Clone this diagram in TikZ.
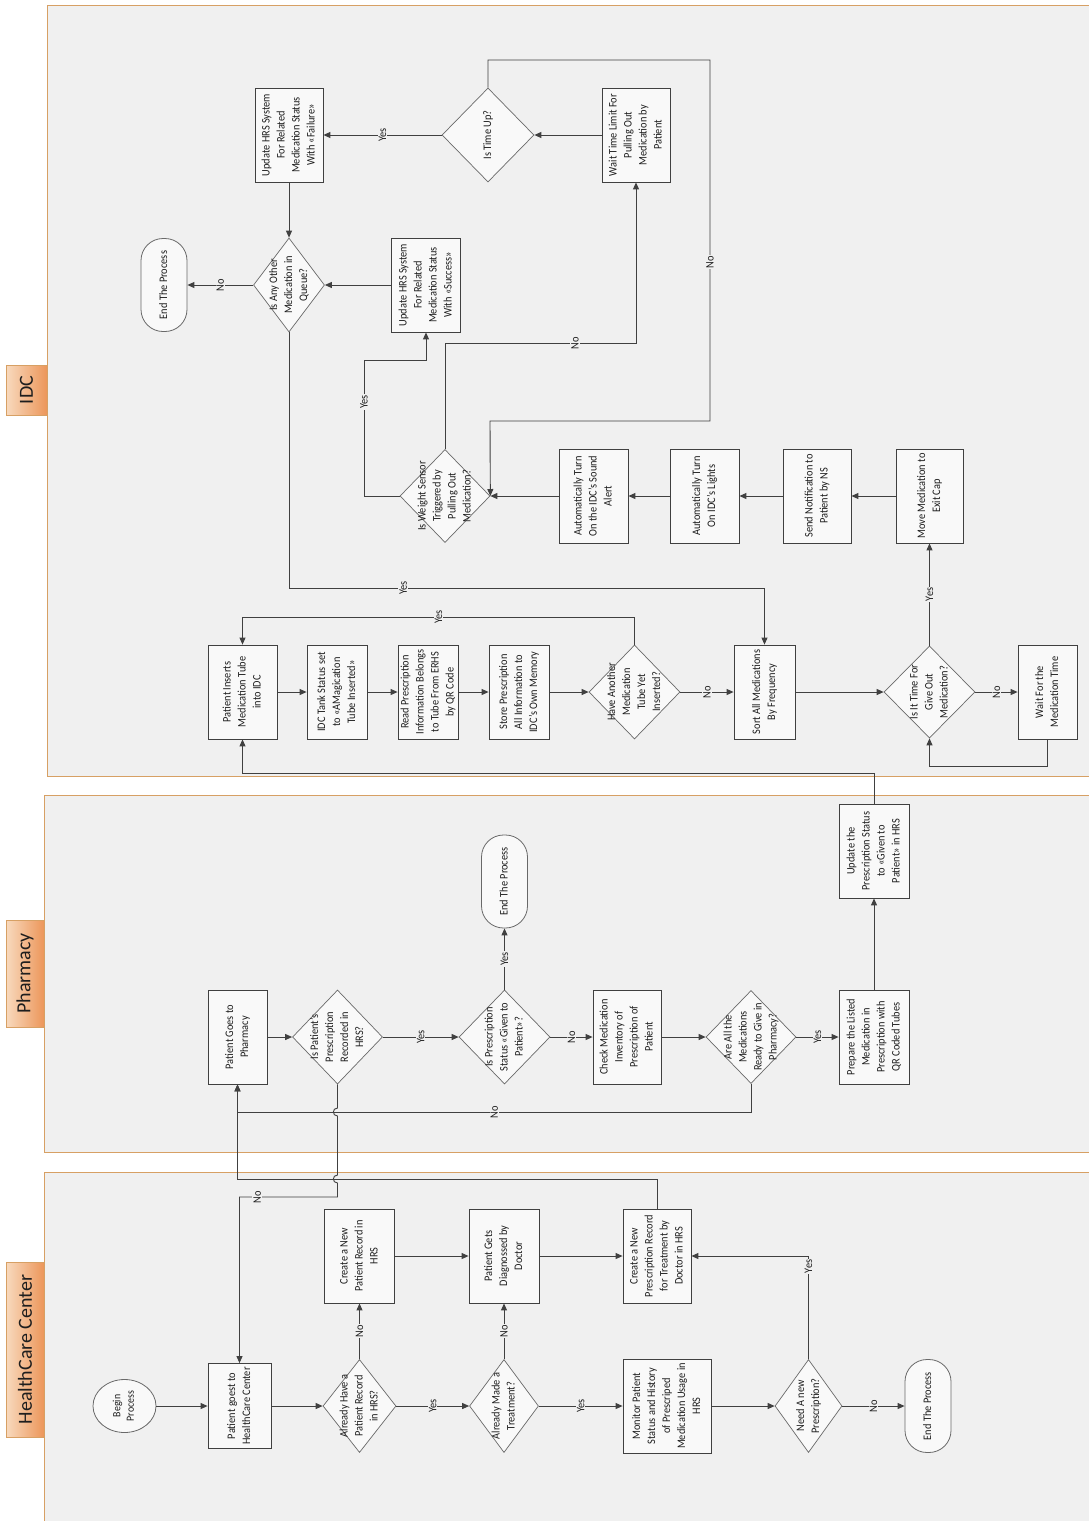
\documentclass[tikz,border=0pt]{standalone}
\usepackage{fontspec}
\setmainfont{Carlito}[FakeStretch=0.9]
\newfontfamily\lanefont{Carlito}
\usepackage{graphicx}
\usetikzlibrary{arrows.meta, shapes.geometric}
\definecolor{lanegray}{RGB}{240,240,240}
\definecolor{laneedge}{RGB}{215,160,100}
\definecolor{tabl}{RGB}{248,218,190}
\definecolor{tabr}{RGB}{236,150,90}
\definecolor{boxfill}{RGB}{249,249,249}
\definecolor{edgegray}{RGB}{64,64,64}
\definecolor{diagray}{RGB}{105,105,105}
\definecolor{textgray}{RGB}{30,30,30}
\newcommand{\vtext}[1]{\rotatebox{90}{\begin{tabular}{@{}c@{}}#1\end{tabular}}}
\newcommand{\dtext}[1]{\makebox[0pt]{\vtext{#1}}}

\begin{document}
\begin{tikzpicture}[
  x=1pt, y=-1pt,
  font=\fontsize{11.5}{15}\selectfont,
  lane/.style={fill=lanegray, draw=laneedge, line width=0.8pt},
  lanetab/.style={draw=laneedge, left color=tabl, right color=tabr, line width=0.6pt,
                  inner sep=0pt, text=textgray, font=\lanefont\fontsize{20}{24}\selectfont},
  box/.style={rectangle, draw=edgegray, fill=boxfill, line width=0.8pt, inner sep=0pt,
              minimum height=94pt, text=textgray},
  dia/.style={diamond, draw=diagray, fill=boxfill, line width=0.7pt, inner sep=0pt,
              minimum height=94pt, text=textgray},
  term/.style={rectangle, rounded corners=22pt, draw=diagray, fill=boxfill, line width=0.8pt,
               inner sep=0pt, minimum width=46pt, minimum height=93pt, text=textgray},
  arr/.style={-{Triangle[length=7pt,width=6pt]}, draw=edgegray, line width=0.9pt},
  elab/.style={rotate=90, fill=lanegray, inner sep=1pt, text=textgray}
]
\fill[white] (0,0) rectangle (1089,1521);
\useasboundingbox (0,0) rectangle (1089,1521);

\draw[lane] (47,5) rectangle (1096,776);
\draw[lane] (44,795) rectangle (1096,1152);
\draw[lane] (44,1172) rectangle (1096,1528);
\node[lanetab, minimum width=41pt, minimum height=50pt] (tabIDC) at (26.5,390) {\rotatebox{90}{IDC}};
\node[lanetab, minimum width=38pt, minimum height=107pt] (tabPharm) at (25,973.5) {\rotatebox{90}{Pharmacy}};
\node[lanetab, minimum width=38pt, minimum height=175pt] (tabHC) at (25,1349.5) {\rotatebox{90}{HealthCare Center}};

\node[box, minimum width=68pt] (upFail) at (289,135) {\vtext{Update HRS System\\For Related\\Medication Status\\With «Failure»}};
\node[dia, minimum width=92pt] (isTimeUp) at (488,135) {\dtext{Is Time Up?}};
\node[box, minimum width=68pt] (waitLimit) at (636,135) {\vtext{Wait Time Limit For\\Pulling Out\\Medication by\\Patient}};
\node[term] (endIDC) at (164,285) {\vtext{End The Process}};
\node[dia, minimum width=71pt] (anyOther) at (289,285) {\dtext{Is Any Other\\Medication in\\Queue?}};
\node[box, minimum width=69pt] (upSucc) at (426,285) {\vtext{Update HRS System\\For Related\\Medication Status\\With «Success»}};
\node[dia, minimum width=90pt, minimum height=93pt] (weight) at (445,496) {\dtext{Is Weight Sensor\\Triggered by\\Pulling Out\\Medication?}};
\node[box, minimum width=69pt] (autoSound) at (593.5,496) {\vtext{Automatically Turn\\On the IDC's Sound\\Alert}};
\node[box, minimum width=69pt] (autoLights) at (704.5,496) {\vtext{Automatically Turn\\On IDC's Lights}};
\node[box, minimum width=68pt] (sendNot) at (817,496) {\vtext{Send Notification to\\Patient by NS}};
\node[box, minimum width=67pt] (moveMed) at (929.5,496) {\vtext{Move Medication to\\Exit Cap}};
\node[box, minimum width=69pt] (patIns) at (242.5,692) {\vtext{Patient Inserts\\Medication Tube\\into IDC}};
\node[box, minimum width=60pt] (idcTank) at (337,692) {\vtext{IDC Tank Status set\\to «AMagication\\Tube Inserted»}};
\node[box, minimum width=60pt] (readPres) at (428,692) {\vtext{Read Prescription\\Information Belongs\\to Tube From ERHS\\by QR Code}};
\node[box, minimum width=60pt] (store) at (519,692) {\vtext{Store Prescription\\All Information to\\IDC's Own Memory}};
\node[dia, minimum width=91pt] (haveAnother) at (634.5,692) {\dtext{Have Another\\Medication\\Tube Yet\\Inserted?}};
\node[box, minimum width=61pt] (sort) at (764.5,692) {\vtext{Sort All Medications\\By Frequency}};
\node[dia, minimum width=91pt, minimum height=92pt] (timeFor) at (929.5,692) {\dtext{Is It Time For\\Give Out\\Medication?}};
\node[box, minimum width=59pt] (waitMed) at (1047.5,692) {\vtext{Wait For the\\Medication Time}};

\node[box, minimum width=59pt] (patPharm) at (237.5,1037) {\vtext{Patient Goes to\\Pharmacy}};
\node[dia, minimum width=90pt] (isRecorded) at (337.5,1037) {\dtext{Is Patient's\\Prescription\\Recorded in\\HRS?}};
\node[dia, minimum width=91pt] (isGiven) at (504.5,1037) {\dtext{Is Prescription\\Status «Given to\\Patient»?}};
\node[term] (endPharm) at (504.5,881.5) {\vtext{End The Process}};
\node[box, minimum width=68pt] (checkInv) at (627,1037) {\vtext{Check Medication\\Inventory of\\Prescription of\\Patient}};
\node[dia, minimum width=90pt, minimum height=93pt] (areReady) at (751,1037) {\dtext{Are All the\\Medications\\Ready to Give in\\Pharmacy?}};
\node[box, minimum width=70pt] (prepList) at (874,1037) {\vtext{Prepare the Listed\\Medication in\\Prescription with\\QR Coded Tubes}};
\node[box, minimum width=70pt] (updPres) at (874,851) {\vtext{Update the\\Prescription Status\\to «Given to\\Patient» in HRS}};

\node[ellipse, draw=diagray, fill=boxfill, line width=0.8pt, inner sep=0pt, text=textgray,
      minimum width=63pt, minimum height=53pt, font=\fontsize{11}{13.5}\selectfont] (begin) at (124.5,1406) {\vtext{Begin\\Process}};
\node[box, minimum width=63pt, minimum height=85pt] (patHC) at (239.5,1406) {\vtext{Patient goest to\\HealthCare Center}};
\node[dia, minimum width=73pt, minimum height=93pt] (alreadyHave) at (359.5,1406) {\dtext{Already Have a\\Patient Record\\in HRS?}};
\node[box, minimum width=70pt] (createPat) at (359.5,1256) {\vtext{Create a New\\Patient Record in\\HRS}};
\node[dia, minimum width=69pt, minimum height=93pt] (alreadyMade) at (504,1406) {\dtext{Already Made a\\Treatment?}};
\node[box, minimum width=70pt] (diagnosed) at (504,1256) {\vtext{Patient Gets\\Diagnossed by\\Doctor}};
\node[box, minimum width=68pt] (createPres) at (657,1256) {\vtext{Create a New\\Prescription Record\\for Treatment by\\Doctor in HRS}};
\node[box, minimum width=88pt] (monitor) at (667,1406) {\vtext{Monitor Patient\\Status and History\\of Prescriped\\Medication Usage in\\HRS}};
\node[dia, minimum width=67pt, minimum height=93pt] (needNew) at (808.5,1406) {\dtext{Need A new\\Prescription?}};
\node[term] (endHC) at (928,1406) {\vtext{End The Process}};

\draw[arr] (begin) -- (patHC);
\draw[arr] (patHC) -- (alreadyHave);
\draw[arr] (alreadyHave) -- node[elab]{No} (createPat);
\draw[arr] (alreadyHave) -- node[elab]{Yes} (alreadyMade);
\draw[arr] (alreadyMade) -- node[elab]{No} (diagnosed);
\draw[arr] (alreadyMade) -- node[elab]{Yes} (monitor);
\draw[arr] (createPat) -- (diagnosed);
\draw[arr] (diagnosed) -- (createPres);
\draw[arr] (monitor) -- (needNew);
\draw[arr] (needNew) -- node[elab]{No} (endHC);
\draw[arr] (needNew) -- node[elab, pos=.9]{Yes} (808.5,1256) -- (createPres.east);
\draw[arr] (createPres) -- (657,1179) -- (237.5,1179) -- (patPharm);

\draw[arr] (patPharm) -- (isRecorded);
\draw[arr] (isRecorded) -- node[elab]{Yes} (isGiven);
\draw[arr] (isRecorded) -- (337.5,1108) .. controls (332,1108) and (332,1116) .. (337.5,1116)
  -- (337.5,1175) .. controls (332,1175) and (332,1183) .. (337.5,1183)
  -- (337.5,1197) -- node[elab, pos=.82]{No} (239.5,1197) -- (patHC);
\draw[arr] (isGiven) -- node[elab]{Yes} (endPharm);
\draw[arr] (isGiven) -- node[elab]{No} (checkInv);
\draw[arr] (checkInv) -- (areReady);
\draw[arr] (areReady) -- node[elab]{Yes} (prepList);
\draw[arr] (areReady) -- (751,1112) -- node[elab]{No} (237.5,1112) -- (patPharm);
\draw[arr] (prepList) -- (updPres);
\draw[arr] (updPres) -- (874,773) -- (242.5,773) -- (patIns);

\draw[arr] (patIns) -- (idcTank);
\draw[arr] (idcTank) -- (readPres);
\draw[arr] (readPres) -- (store);
\draw[arr] (store) -- (haveAnother);
\draw[arr] (haveAnother) -- (634.5,617) -- node[elab]{Yes} (242.5,617) -- (patIns);
\draw[arr] (haveAnother) -- node[elab]{No} (sort);
\draw[arr] (sort) -- (timeFor);
\draw[arr] (timeFor) -- node[elab]{No} (waitMed);
\draw[arr] (waitMed) -- (1047.5,766) -- (929.5,766) -- (timeFor);
\draw[arr] (timeFor) -- node[elab]{Yes} (moveMed);
\draw[arr] (moveMed) -- (sendNot);
\draw[arr] (sendNot) -- (autoLights);
\draw[arr] (autoLights) -- (autoSound);
\draw[arr] (autoSound) -- (weight);
\draw[arr] (weight) -- (364,496) -- node[elab, pos=.69]{Yes} (364,360) -- (426,360) -- (upSucc);
\draw[arr] (weight) -- (445,343) -- node[elab, pos=.68]{No} (636,343) -- (waitLimit);
\draw[arr] (waitLimit) -- (isTimeUp);
\draw[arr] (isTimeUp) -- node[elab]{Yes} (upFail);
\draw[arr] (isTimeUp) -- (488,60) -- (710,60) -- node[elab, pos=.56]{No} (710,421) -- (490,421) -- (weight.east);
\draw[arr] (upSucc) -- (anyOther);
\draw[arr] (upFail) -- (anyOther);
\draw[arr] (anyOther) -- node[elab]{No} (endIDC);
\draw[arr] (anyOther) -- (289,588) -- node[elab, pos=.24]{Yes} (764.5,588) -- (sort);
\end{tikzpicture}
\end{document}
